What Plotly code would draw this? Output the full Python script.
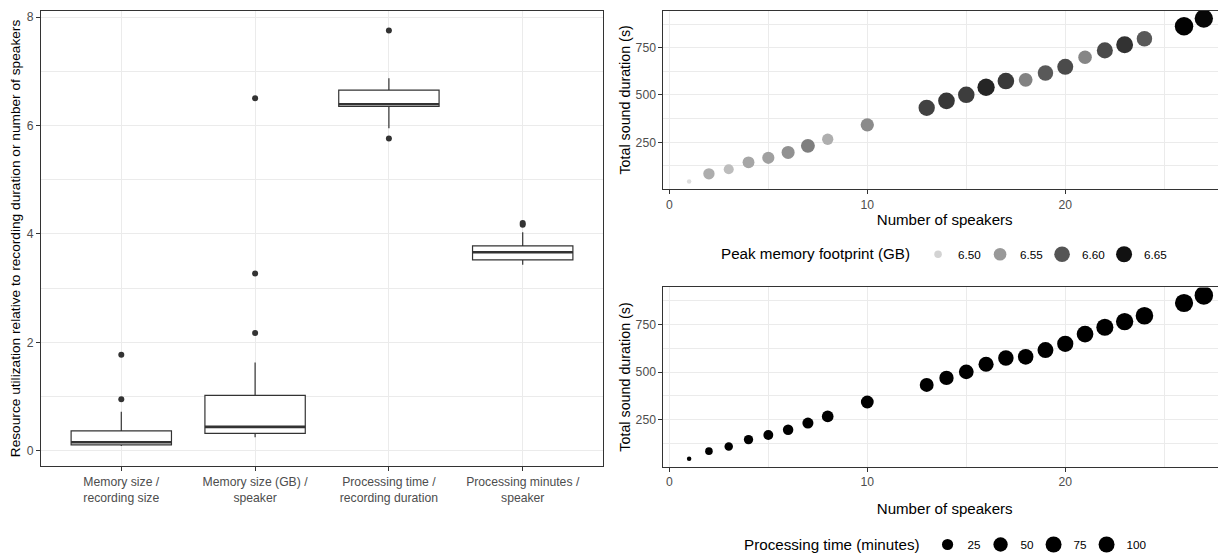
import numpy as np
import plotly.graph_objects as go

# ---------------- data: left panel (box statistics) ----------------
categories = ["Memory size /<br>recording size", "Memory size (GB) /<br>speaker",
              "Processing time /<br>recording duration", "Processing minutes /<br>speaker"]
box_lowerfence = [0.09, 0.25, 5.95, 3.43]
box_q1 = [0.11, 0.32, 6.35, 3.52]
box_median = [0.157, 0.44, 6.39, 3.66]
box_q3 = [0.366, 1.02, 6.65, 3.78]
box_upperfence = [0.72, 1.63, 6.87, 4.03]
outlier_cat = [1, 1, 2, 2, 2, 3, 3, 4, 4]
outlier_val = [0.95, 1.77, 2.17, 3.27, 6.50, 7.75, 5.76, 4.17, 4.20]

# ---------------- data: right panels ----------------
speakers = [1, 2, 3, 4, 5, 6, 7, 8, 10, 13, 14, 15, 16, 17, 18, 19, 20, 21, 22, 23, 24, 26, 27]
duration_s = [43, 83, 107, 144, 168, 196, 231, 266, 342, 432, 469, 501, 541, 574, 580,
              616, 649, 700, 736, 766, 797, 864, 904]
peak_memory_gb = [6.492, 6.533, 6.519, 6.539, 6.544, 6.556, 6.569, 6.532, 6.560, 6.614,
                  6.622, 6.618, 6.635, 6.620, 6.567, 6.597, 6.607, 6.564, 6.608, 6.626,
                  6.597, 6.663, 6.659]
processing_min = [4.1, 8.6, 11.5, 15.2, 18.0, 20.8, 24.5, 28.5, 36.5, 46.0, 50.0, 53.5,
                  57.5, 61.0, 62.0, 65.5, 69.0, 74.5, 78.5, 81.5, 85.0, 92.0, 96.5]
memory_legend = [6.50, 6.55, 6.60, 6.65]
time_legend = [25, 50, 75, 100]

FONT = "Liberation Sans, Arial, sans-serif"
OFF = 8                      # page body margin of the html page
W, H = 1226 - OFF, 560 - OFF


def size_px(v, vmin, vmax, dmin=4.5, dmax=18.5):
    t = np.clip((np.asarray(v, float) - vmin) / (vmax - vmin), 0, 1.05)
    return dmin + (dmax - dmin) * np.sqrt(t)


def gray(v):
    av = [6.49, 6.50, 6.55, 6.60, 6.65, 6.665]
    ag = [223, 211, 153, 85, 17, 0]
    g = np.interp(np.atleast_1d(np.asarray(v, float)), av, ag)
    out = []
    for x in g:
        k = int(round(float(x)))
        out.append("#{0:02x}{0:02x}{0:02x}".format(k))
    return out


fig = go.Figure()

# ---- left: boxes ----
pos = list(range(1, len(categories) + 1))
fig.add_trace(go.Box(x=pos, q1=box_q1, median=box_median, q3=box_q3,
                     lowerfence=box_lowerfence, upperfence=box_upperfence,
                     width=0.75, fillcolor="white", line=dict(color="#333333", width=1.2),
                     boxpoints=False, whiskerwidth=0, showlegend=False,
                     xaxis="x", yaxis="y", hoverinfo="skip"))
mx, my = [], []
for p, m in zip(pos, box_median):
    mx += [p - 0.375, p + 0.375, None]
    my += [m, m, None]
fig.add_trace(go.Scatter(x=mx, y=my, mode="lines", line=dict(color="#333333", width=2.6),
                         showlegend=False, xaxis="x", yaxis="y", hoverinfo="skip"))
fig.add_trace(go.Scatter(x=outlier_cat, y=outlier_val, mode="markers",
                         marker=dict(color="#333333", size=6, line=dict(width=0), opacity=1),
                         showlegend=False, xaxis="x", yaxis="y"))

# ---- right top: memory ----
mmin, mmax = min(peak_memory_gb), max(peak_memory_gb)
fig.add_trace(go.Scatter(x=speakers, y=duration_s, mode="markers",
                         marker=dict(size=size_px(peak_memory_gb, mmin, mmax),
                                     color=gray(peak_memory_gb), opacity=1, line=dict(width=0)),
                         showlegend=False, xaxis="x2", yaxis="y2"))
for v in memory_legend:
    fig.add_trace(go.Scatter(x=[None], y=[None], mode="markers",
                             marker=dict(size=float(size_px(v, mmin, mmax)), color=gray(v)[0],
                                         line=dict(width=0), opacity=1),
                             name="%.2f" % v, legend="legend", xaxis="x2", yaxis="y2"))

# ---- right bottom: processing time ----
tmin, tmax = min(processing_min), max(processing_min)
fig.add_trace(go.Scatter(x=speakers, y=duration_s, mode="markers",
                         marker=dict(size=size_px(processing_min, tmin, tmax),
                                     color="black", line=dict(width=0), opacity=1),
                         showlegend=False, xaxis="x3", yaxis="y3"))
for v in time_legend:
    fig.add_trace(go.Scatter(x=[None], y=[None], mode="markers",
                             marker=dict(size=float(size_px(v, tmin, tmax)), color="black",
                                         line=dict(width=0), opacity=1),
                             name=str(v), legend="legend2", xaxis="x3", yaxis="y3"))
# invisible spacer entry so the last label of the compact legend is not clipped
fig.add_trace(go.Scatter(x=[None], y=[None], mode="markers",
                         marker=dict(size=1, color="rgba(0,0,0,0)"), name=" ",
                         legend="legend2", xaxis="x3", yaxis="y3"))

ax = dict(showline=True, mirror=True, linecolor="#333333", linewidth=1,
          ticks="outside", ticklen=4, tickcolor="#333333", tickwidth=1,
          tickfont=dict(size=12.2, color="#4D4D4D", family=FONT),
          showgrid=True, gridcolor="#EBEBEB", gridwidth=1, zeroline=False,
          automargin=False)
minor = lambda d: dict(dtick=d, showgrid=True, gridcolor="#EBEBEB", gridwidth=0.6, ticks="")

fx = lambda x: (x - OFF) / W
fy = lambda y: 1 - (y - OFF) / H

fig.update_layout(
    width=W, height=H, margin=dict(l=0, r=0, t=0, b=0),
    paper_bgcolor="white", plot_bgcolor="white",
    font=dict(family=FONT, size=13, color="black"),
    xaxis=dict(ax, domain=[fx(41), fx(603)], range=[0.4, 4.6], tickmode="array",
               tickvals=pos, ticktext=categories, anchor="y"),
    yaxis=dict(ax, domain=[fy(470.5), fy(10.7)], range=[-0.287, 8.117], tick0=0, dtick=2,
               minor=minor(1), anchor="x",
               title=dict(text="Resource utilization relative to recording duration or number of speakers",
                          standoff=3, font=dict(size=13.7))),
    xaxis2=dict(ax, domain=[fx(663.4), 1], range=[-0.3, 28.12], tick0=0, dtick=10,
                minor=minor(5), anchor="y2",
                title=dict(text="Number of speakers", standoff=3, font=dict(size=15.1))),
    yaxis2=dict(ax, domain=[fy(190.8), fy(10.7)], range=[2, 946], tick0=0, dtick=250,
                minor=minor(125), anchor="x2",
                title=dict(text="Total sound duration (s)", standoff=1, font=dict(size=14.3))),
    xaxis3=dict(ax, domain=[fx(663.4), 1], range=[-0.3, 28.12], tick0=0, dtick=10,
                minor=minor(5), anchor="y3",
                title=dict(text="Number of speakers", standoff=15, font=dict(size=15.1))),
    yaxis3=dict(ax, domain=[fy(470.7), fy(290)], range=[2, 946], tick0=0, dtick=250,
                minor=minor(125), anchor="x3",
                title=dict(text="Total sound duration (s)", standoff=1, font=dict(size=14.3))),
    legend=dict(orientation="h", x=fx(719), y=fy(257), xanchor="left", yanchor="middle",
                entrywidth=17, entrywidthmode="pixels",
                title=dict(text="Peak memory footprint (GB)", side="left",
                           font=dict(size=15.2, color="black")),
                font=dict(size=11.7, color="black"), bgcolor="rgba(0,0,0,0)",
                itemclick=False, itemdoubleclick=False),
    legend2=dict(orientation="h", x=fx(742), y=fy(550), xanchor="left", yanchor="middle",
                 entrywidth=8, entrywidthmode="pixels",
                 title=dict(text="Processing time (minutes)", side="left",
                            font=dict(size=15.2, color="black")),
                 font=dict(size=11.7, color="black"), bgcolor="rgba(0,0,0,0)",
                 itemclick=False, itemdoubleclick=False),
)

fig.write_html("out.html")
